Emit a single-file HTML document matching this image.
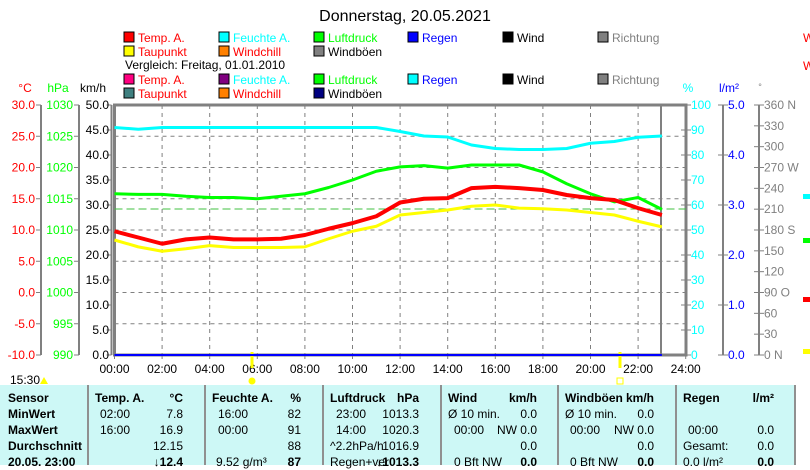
<!DOCTYPE html>
<html><head><meta charset="utf-8"><style>
body{margin:0;background:#fff;width:810px;height:465px;overflow:hidden;font-family:"Liberation Sans",sans-serif;}
svg text{font-family:"Liberation Sans",sans-serif;}
#tbl{position:absolute;left:0;top:385px;width:795px;height:80px;background:#cdf8f6;}
.c{position:absolute;font-size:12px;line-height:16px;color:#000;white-space:nowrap}
.b{font-weight:bold}
.sep{position:absolute;top:0;width:2px;height:80px;background:#909090}
</style></head><body>
<svg id="chart" width="810" height="385" style="position:absolute;left:0;top:0">
<text x="405" y="21" font-size="16" text-anchor="middle">Donnerstag, 20.05.2021</text>
<g id="legend" font-size="12"></g>
<text x="125" y="69" font-size="12">Vergleich: Freitag, 01.01.2010</text>
<g id="axes"></g>
<g id="grid"></g>
<g id="series"></g>
</svg>
<div id="tbl"></div>
<script>
const hours=[0,1,2,3,4,5,6,7,8,9,10,11,12,13,14,15,16,17,18,19,20,21,22,23];
const tempA=[9.8,8.8,7.8,8.5,8.8,8.5,8.5,8.6,9.2,10.2,11.1,12.2,14.4,15.0,15.1,16.7,16.9,16.7,16.4,15.6,15.1,14.8,13.5,12.4];
const dewPoint=[8.4,7.3,6.6,7.0,7.5,7.2,7.2,7.2,7.3,8.6,9.8,10.6,12.4,12.8,13.2,13.8,14.0,13.5,13.4,13.2,12.8,12.4,11.4,10.5];
const pressure=[1015.8,1015.7,1015.7,1015.4,1015.2,1015.2,1015.0,1015.4,1015.8,1016.8,1018.0,1019.4,1020.1,1020.3,1019.9,1020.4,1020.4,1020.4,1019.3,1017.4,1015.8,1014.5,1015.2,1013.3];
const humidity=[91,90.3,91,91,91,91,91,91,91,91,91,91,89.4,87.6,87.2,84,82.6,82.2,82.2,82.6,84.7,85.4,87.1,87.6];
const rain=[0,0,0,0,0,0,0,0,0,0,0,0,0,0,0,0,0,0,0,0,0,0,0,0];
const timeLabels=["00:00","02:00","04:00","06:00","08:00","10:00","12:00","14:00","16:00","18:00","20:00","22:00","24:00"];
const tempTicks=["30.0","25.0","20.0","15.0","10.0","5.0","0.0","-5.0","-10.0"];
const presTicks=["1030","1025","1020","1015","1010","1005","1000","995","990"];
const windTicks=["50.0","45.0","40.0","35.0","30.0","25.0","20.0","15.0","10.0","5.0","0.0"];
const humTicks=["100","90","80","70","60","50","40","30","20","10","0"];
const rainTicks=["5.0","4.0","3.0","2.0","1.0","0.0"];
const dirTicks=["360 N","330","300","270 W","240","210","180 S","150","120","90  O","60","30","0    N"];

const NS="http://www.w3.org/2000/svg";
const X0=114.5,HW=23.8,YT=105,YB=355,H=YB-YT;
const xs=h=>X0+h*HW;
const yT=v=>YT+(30-v)/40*H, yP=v=>YT+(1030-v)/40*H, yH=v=>YT+(100-v)/100*H, yR=v=>YT+(5-v)/5*H;
function el(t,a,p){const e=document.createElementNS(NS,t);for(const k in a)e.setAttribute(k,a[k]);p.appendChild(e);return e;}
function txt(p,x,y,s,fill,anchor,size){const t=el('text',{x:x,y:y,fill:fill,'text-anchor':anchor||'start','font-size':size||12},p);t.textContent=s;return t;}
const L=document.getElementById('legend'),A=document.getElementById('axes'),G=document.getElementById('grid'),S=document.getElementById('series');

const leg=[
[124,42,'#f00','Temp. A.','#f00'],[219,42,'#0ff','Feuchte A.','#0ff'],[314,42,'#0f0','Luftdruck','#0f0'],[408,42,'#00f','Regen','#00f'],[503,42,'#000','Wind','#000'],[598,42,'#808080','Richtung','#808080'],
[124,56,'#ff0','Taupunkt','#f00'],[219,56,'#ff8000','Windchill','#f00'],[314,56,'#808080','Windböen','#000'],
[124,84,'#ff0080','Temp. A.','#f00'],[219,84,'#800080','Feuchte A.','#0ff'],[314,84,'#0f0','Luftdruck','#0f0'],[408,84,'#0ff','Regen','#00f'],[503,84,'#000','Wind','#000'],[598,84,'#808080','Richtung','#808080'],
[124,98,'#408080','Taupunkt','#f00'],[219,98,'#ff8000','Windchill','#f00'],[314,98,'#000080','Windböen','#000']];
leg.forEach(d=>{const g=el('g',{},L);


el('rect',{x:d[0],y:d[1]-10,width:10,height:10,fill:d[2],stroke:'#000'},g);txt(g,d[0]+14,d[1],d[3],d[4]);});
txt(L,803,42,'W','#f00');txt(L,803,70,'W','#f00');

txt(A,25,92,'°C','#f00','middle');txt(A,58,92,'hPa','#0f0','middle');txt(A,93,92,'km/h','#000','middle');
txt(A,688,92,'%','#0ff','middle');txt(A,729,92,'l/m²','#00f','middle');txt(A,760,90,'°','#808080','middle',9);
function vaxis(x,ticks,color,side,tx){el('line',{x1:x,y1:YT,x2:x,y2:YB,stroke:'#808080','stroke-width':2},A);
ticks.forEach((s,i)=>{const y=YT+i*H/(ticks.length-1);el('line',{x1:x-5,y1:y,x2:x+(side<0?0:5),y2:y,stroke:'#808080'},A);
txt(A,tx,y+4,s,color,side<0?'end':'start');});}
vaxis(41,tempTicks,'#f00',-1,35);vaxis(79,presTicks,'#0f0',-1,73);vaxis(X0-3,windTicks,'#000',-1,109);
vaxis(686,humTicks,'#0ff',1,691);vaxis(723,rainTicks,'#00f',1,728);vaxis(759,dirTicks,'#808080',1,764);

for(let i=1;i<8;i++){const y=YT+i*H/8;el('line',{x1:X0,y1:y,x2:686,y2:y,stroke:'#808080','stroke-dasharray':'4,4'},G);}
for(let i=1;i<12;i++){const x=xs(i*2);el('line',{x1:x,y1:YT,x2:x,y2:YB,stroke:'#808080','stroke-dasharray':'4,4'},G);}
timeLabels.forEach((s,i)=>{const x=xs(i*2);el('line',{x1:x,y1:YB,x2:x,y2:YB+4,stroke:'#808080'},A);txt(A,x,373,s,'#000','middle');});
el('rect',{x:X0,y:YT,width:686-X0,height:H,fill:'none',stroke:'#808080','stroke-width':3},G);
el('line',{x1:661,y1:YT,x2:661,y2:YB,stroke:'#808080','stroke-width':2},G);
el('line',{x1:X0,y1:209,x2:686,y2:209,stroke:'#808080','stroke-dasharray':'8,4'},G);
el('line',{x1:X0,y1:209,x2:686,y2:209,stroke:'#0f0','stroke-dasharray':'8,4','stroke-opacity':0.5},G);
el('line',{x1:252,y1:352,x2:252,y2:368,stroke:'#ff0','stroke-width':3},G);
el('line',{x1:620,y1:352,x2:620,y2:368,stroke:'#ff0','stroke-width':3},G);
el('circle',{cx:252,cy:381,r:3.5,fill:'#ff0'},G);
el('rect',{x:617,y:378,width:6,height:6,fill:'none',stroke:'#ff0'},G);
txt(A,10,384,'15:30','#000');el('path',{d:'M40 384 L44 377 L48 384 Z',fill:'#ff0'},A);
[[197,'#0ff'],[241,'#0f0'],[300,'#f00'],[352,'#ff0']].forEach(m=>el('rect',{x:803,y:m[0]-3,width:7,height:5,fill:m[1]},G));

function line(arr,fy,color,w,name){const p=el('polyline',{points:arr.map((v,i)=>xs(hours[i])+','+fy(v)).join(' '),fill:'none',stroke:color,'stroke-width':w,'stroke-linejoin':'round'},S);

}
line(rain,yR,'#00f',2,'rain-line');
line(humidity,yH,'#0ff',3,'humidity-line');
line(pressure,yP,'#0f0',3,'pressure-line');
line(dewPoint,yT,'#ff0',3,'dewpoint-line');
line(tempA,yT,'#f00',4,'temperature-line');

const T=document.getElementById('tbl');
[88,205,323,441,558,676,795].forEach(x=>{const d=document.createElement('div');d.className='sep';d.style.left=(x-1)+'px';T.appendChild(d);});
function c(x,r,s,b,right){const d=document.createElement('div');d.className='c'+(b?' b':'');d.textContent=s;d.style.top=(5+r*16)+'px';
if(right){d.style.right=(810-x)+'px';}else d.style.left=x+'px';T.appendChild(d);}
c(8,0,'Sensor',1);c(8,1,'MinWert',1);c(8,2,'MaxWert',1);c(8,3,'Durchschnitt',1);c(8,4,'20.05. 23:00',1);
c(95,0,'Temp. A.',1);c(198,0,'°C',1,1);c(100,1,'02:00');c(198,1,'7.8',0,1);c(100,2,'16:00');c(198,2,'16.9',0,1);c(198,3,'12.15',0,1);c(198,4,'↓12.4',1,1);
c(212,0,'Feuchte A.',1);c(316,0,'%',1,1);c(218,1,'16:00');c(316,1,'82',0,1);c(218,2,'00:00');c(316,2,'91',0,1);c(316,3,'88',0,1);c(216,4,'9.52 g/m³');c(316,4,'87',1,1);
c(330,0,'Luftdruck',1);c(434,0,'hPa',1,1);c(336,1,'23:00');c(434,1,'1013.3',0,1);c(336,2,'14:00');c(434,2,'1020.3',0,1);c(330,3,'^2.2hPa/h');c(434,3,'1016.9',0,1);c(330,4,'Regen+ver');c(434,4,'↓1013.3',1,1);
c(448,0,'Wind',1);c(552,0,'km/h',1,1);c(448,1,'Ø 10 min.');c(552,1,'0.0',0,1);c(454,2,'00:00');c(552,2,'NW 0.0',0,1);c(552,3,'0.0',0,1);c(454,4,'0 Bft NW');c(552,4,'0.0',1,1);
c(565,0,'Windböen',1);c(669,0,'km/h',1,1);c(565,1,'Ø 10 min.');c(669,1,'0.0',0,1);c(570,2,'00:00');c(669,2,'NW 0.0',0,1);c(669,3,'0.0',0,1);c(570,4,'0 Bft NW');c(669,4,'0.0',1,1);
c(683,0,'Regen',1);c(789,0,'l/m²',1,1);c(688,2,'00:00');c(789,2,'0.0',0,1);c(683,3,'Gesamt:');c(789,3,'0.0',0,1);c(683,4,'0.0 l/m²');c(789,4,'0.0',1,1);
</script>
</body></html>
